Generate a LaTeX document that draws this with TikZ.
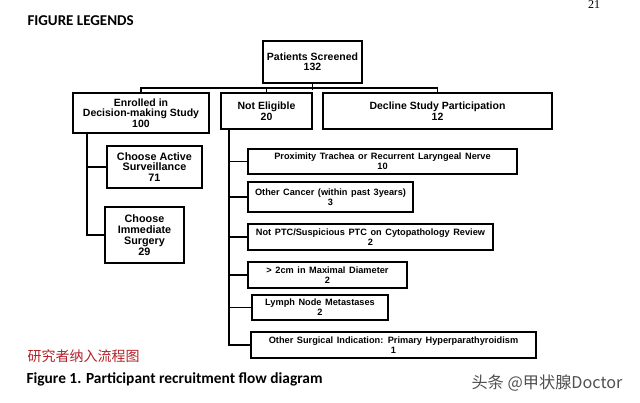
\documentclass[tikz,border=0pt]{standalone}
\usepackage{fontspec}
\setmainfont{Liberation Sans}
\newfontfamily\calfont{Carlito}
\newfontfamily\cjkfont{Noto Sans CJK SC}
\newfontfamily\serfont{Liberation Serif}
\definecolor{cnred}{RGB}{178,34,40}
\definecolor{wmgray}{RGB}{80,80,80}
\newcommand\widewords{\spaceskip=3.6pt plus 1pt\relax}
\begin{document}
\begin{tikzpicture}[x=1pt,y=-1pt,
  box/.style={draw,line width=1.8pt,inner sep=0pt,align=center,
    font=\fontsize{10.5}{10.5}\selectfont\bfseries},
  subbox/.style={draw,line width=1.8pt,inner sep=0pt,align=center,
    font={\fontsize{9.2}{10}\selectfont\bfseries\widewords}},
  conn/.style={line width=1.8pt}]
\useasboundingbox (0,0) rectangle (640,403);
% page texts
\node[font=\serfont\fontsize{12}{12}\selectfont] (pg) at (594,5) {21};
\node[anchor=west,font=\calfont\bfseries\fontsize{15}{15}\selectfont] (legend) at (24,21) {FIGURE LEGENDS};
% top level
\node[box,minimum width=99,minimum height=42] (patients) at (312.5,62) {Patients Screened\\132};
\node[box,minimum width=136,minimum height=40] (enrolled) at (141,113) {Enrolled in\\Decision-making Study\\100};
\node[box,minimum width=91,minimum height=36] (notelig) at (266.5,111) {Not Eligible\\20};
\node[box,minimum width=229,minimum height=36] (decline) at (437.5,111) {Decline Study Participation\\12};
% enrolled branch
\node[box,minimum width=95,minimum height=42,font=\fontsize{10.8}{10.5}\selectfont\bfseries] (active) at (154.5,167) {Choose Active\\Surveillance\\71};
\node[box,minimum width=79,minimum height=56,font=\fontsize{10.8}{11}\selectfont\bfseries] (surgery) at (144.5,235) {Choose\\Immediate\\Surgery\\29};
% not eligible branch
\node[subbox,minimum width=269,minimum height=25] (prox) at (382.5,161.5) {Proximity Trachea or Recurrent Laryngeal Nerve\\10};
\node[subbox,minimum width=165,minimum height=30] (cancer) at (330.5,197) {Other Cancer (within past 3years)\\3};
\node[subbox,minimum width=245,minimum height=26] (notptc) at (370.5,237) {Not PTC/Suspicious PTC on Cytopathology Review\\2};
\node[subbox,minimum width=159,minimum height=26] (cm) at (327.5,275) {> 2cm in Maximal Diameter\\2};
\node[subbox,minimum width=136,minimum height=25] (lymph) at (320,307.5) {Lymph Node Metastases\\2};
\node[subbox,minimum width=285,minimum height=26] (surgical) at (393.5,345) {Other Surgical Indication: Primary Hyperparathyroidism\\1};
% connectors top
\draw[conn] (patients.south) -- ++(0,6);
\draw[conn] (enrolled.north) -- ++(0,-4) -| (decline.north);
\draw[conn] (notelig.north) -- ++(0,-4);
% enrolled trunk
\coordinate (etop) at (87,133);
\draw[conn] (etop) |- (surgery.west);
\draw[conn] (etop |- active.west) -- (active.west);
% not eligible trunk
\coordinate (ntop) at (229,129);
\draw[conn] (ntop) |- (surgical.west);
\draw[conn] (ntop |- prox.west) -- (prox.west);
\draw[conn] (ntop |- cancer.west) -- (cancer.west);
\draw[conn] (ntop |- notptc.west) -- (notptc.west);
\draw[conn] (ntop |- cm.west) -- (cm.west);
\draw[conn] (ntop |- lymph.west) -- (lymph.west);
% captions
\node[anchor=west,text=cnred,font=\cjkfont\fontsize{14}{14}\selectfont] (cn) at (24,356) {研究者纳入流程图};
\node[anchor=west,font=\calfont\bfseries\fontsize{15.4}{15.4}\selectfont] (caption) at (23,379) {Figure 1. Participant recruitment flow diagram};
\node[anchor=west,text=wmgray,font=\cjkfont\fontsize{16.2}{16}\selectfont] (wm) at (468,383) {头条 @甲状腺Doctor};
\end{tikzpicture}
\end{document}
